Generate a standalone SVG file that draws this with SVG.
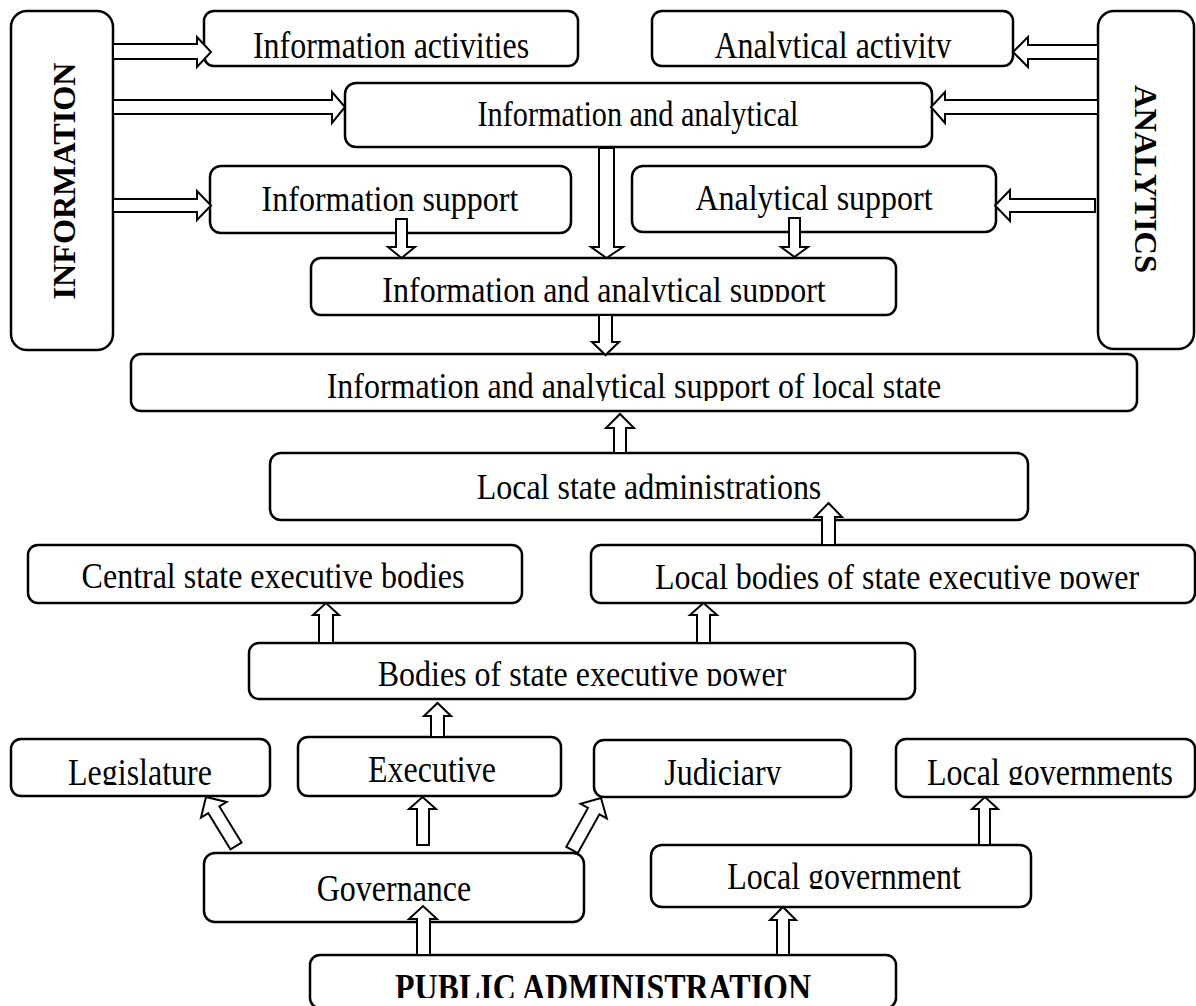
<svg xmlns="http://www.w3.org/2000/svg" width="1196" height="1006" viewBox="0 0 1196 1006">
<style>
.box{fill:#fff;stroke:#000;stroke-width:2.5}
.arr{fill:#fff;stroke:#000;stroke-width:2;stroke-linejoin:miter}
.t{font-family:"Liberation Serif","Times New Roman",serif;font-size:32px;text-anchor:middle;fill:#000}
.b{font-weight:bold}
</style>
<defs>
<clipPath id="c1"><rect x="204" y="11" width="374" height="47"/></clipPath>
<clipPath id="c2"><rect x="652" y="11" width="361" height="47"/></clipPath>
<clipPath id="c3"><rect x="311" y="258" width="585" height="44"/></clipPath>
<clipPath id="c4"><rect x="131" y="354" width="1006" height="47"/></clipPath>
<clipPath id="c5"><rect x="591" y="545" width="604" height="44"/></clipPath>
<clipPath id="c6"><rect x="249" y="643" width="666" height="43"/></clipPath>
<clipPath id="c7"><rect x="11" y="739" width="259" height="46"/></clipPath>
<clipPath id="c8"><rect x="594" y="740" width="257" height="45"/></clipPath>
<clipPath id="c9"><rect x="896" y="739" width="299" height="46"/></clipPath>
<clipPath id="c10"><rect x="651" y="845" width="380" height="44"/></clipPath>
<clipPath id="c11"><rect x="310" y="955" width="586" height="43"/></clipPath>
</defs>
<rect width="1196" height="1006" fill="#fff"/>

<g id="n-information"><rect class="box" x="11" y="11" width="102" height="339" rx="16"/>
<text class="t b" transform="translate(75,181) rotate(-90)" x="0" y="0" font-size="35" textLength="237" lengthAdjust="spacingAndGlyphs">INFORMATION</text></g>
<g id="n-analytics"><rect class="box" x="1098" y="11" width="96" height="338" rx="16"/>
<text class="t b" transform="translate(1135,179) rotate(90)" x="0" y="0" font-size="35" textLength="188" lengthAdjust="spacingAndGlyphs">ANALYTICS</text></g>
<g id="n-info-activities"><rect class="box" x="204" y="11" width="374" height="55" rx="10"/>
<g clip-path="url(#c1)"><text class="t" transform="translate(391,58) scale(1,1.18)">Information activities</text></g></g>
<g id="n-analytical-activity"><rect class="box" x="652" y="11" width="361" height="55" rx="10"/>
<g clip-path="url(#c2)"><text class="t" transform="translate(833,58) scale(1,1.18)">Analytical activity</text></g></g>
<g id="n-info-analytical"><rect class="box" x="345" y="83" width="587" height="64" rx="11"/>
<text class="t" transform="translate(638,126) scale(1,1.12)" font-size="31" textLength="321" lengthAdjust="spacingAndGlyphs">Information and analytical</text></g>
<g id="n-info-support"><rect class="box" x="210" y="166" width="361" height="67" rx="11"/>
<text class="t" transform="translate(390,211) scale(1,1.12)">Information support</text></g>
<g id="n-analytical-support"><rect class="box" x="632" y="166" width="364" height="66" rx="11"/>
<text class="t" transform="translate(814,210) scale(1,1.12)">Analytical support</text></g>
<g id="n-ia-support"><rect class="box" x="311" y="258" width="585" height="57" rx="10"/>
<g clip-path="url(#c3)"><text class="t" transform="translate(604,302) scale(1,1.12)">Information and analytical support</text></g></g>
<g id="n-ia-local-state"><rect class="box" x="131" y="354" width="1006" height="57" rx="10"/>
<g clip-path="url(#c4)"><text class="t" transform="translate(634,398) scale(1,1.15)">Information and analytical support of local state</text></g></g>
<g id="n-local-state-admin"><rect class="box" x="270" y="453" width="758" height="67" rx="11"/>
<text class="t" transform="translate(649,499) scale(1,1.15)">Local state administrations</text></g>
<g id="n-central"><rect class="box" x="28" y="545" width="494" height="58" rx="10"/>
<text class="t" transform="translate(273,588) scale(1,1.15)">Central state executive bodies</text></g>
<g id="n-local-bodies"><rect class="box" x="591" y="545" width="604" height="58" rx="10"/>
<g clip-path="url(#c5)"><text class="t" transform="translate(897,589) scale(1,1.15)">Local bodies of state executive power</text></g></g>
<g id="n-bodies"><rect class="box" x="249" y="643" width="666" height="56" rx="10"/>
<g clip-path="url(#c6)"><text class="t" transform="translate(582,686) scale(1,1.15)">Bodies of state executive power</text></g></g>
<g id="n-legislature"><rect class="box" x="11" y="739" width="259" height="57" rx="10"/>
<g clip-path="url(#c7)"><text class="t" transform="translate(140,785) scale(1,1.18)">Legislature</text></g></g>
<g id="n-executive"><rect class="box" x="298" y="737" width="263" height="59" rx="10"/>
<text class="t" transform="translate(432,782) scale(1,1.18)">Executive</text></g>
<g id="n-judiciary"><rect class="box" x="594" y="740" width="257" height="57" rx="10"/>
<g clip-path="url(#c8)"><text class="t" transform="translate(723,785) scale(1,1.18)">Judiciary</text></g></g>
<g id="n-local-governments"><rect class="box" x="896" y="739" width="299" height="58" rx="10"/>
<g clip-path="url(#c9)"><text class="t" transform="translate(1050,785) scale(1,1.18)">Local governments</text></g></g>
<g id="n-governance"><rect class="box" x="204" y="853" width="380" height="69" rx="11"/>
<text class="t" transform="translate(394,901) scale(1,1.18)">Governance</text></g>
<g id="n-local-government"><rect class="box" x="651" y="845" width="380" height="62" rx="11"/>
<g clip-path="url(#c10)"><text class="t" transform="translate(844,889) scale(1,1.18)">Local government</text></g></g>
<g id="n-public-admin"><rect class="box" x="310" y="955" width="586" height="53" rx="10"/>
<g clip-path="url(#c11)"><text class="t b" transform="translate(603,1000) scale(1,1.18)">PUBLIC ADMINISTRATION</text></g></g>

<g id="connectors">
<polygon class="arr" points="113,44 197,44 197,37 211,52 197,67 197,59 113,59"/>
<polygon class="arr" points="113,100 332,100 332,92 345,107 332,123 332,114 113,114"/>
<polygon class="arr" points="113,199 197,199 197,191 211,205.5 197,220 197,212 113,212"/>
<polygon class="arr" points="1098,45 1028,45 1028,37 1013,52 1028,67 1028,59 1098,59"/>
<polygon class="arr" points="1098,100 945,100 945,92 931,107 945,123 945,114 1098,114"/>
<polygon class="arr" points="1095,199 1010,199 1010,190 995,205.5 1010,221 1010,212 1095,212"/>
<polygon class="arr" points="396,219 407,219 407,247 415,247 401.5,258 388,247 396,247"/>
<polygon class="arr" points="599,148 614,148 614,247 623,247 606.5,258 591,247 599,247"/>
<polygon class="arr" points="789,218 800,218 800,247 808,247 794.5,257 781,247 789,247"/>
<polygon class="arr" points="599,315 612,315 612,342 619,342 605.5,355 592,342 599,342"/>
<polygon class="arr" points="614,453 614,428 606,428 620,414 634,428 626,428 626,453"/>
<polygon class="arr" points="822,545 822,517 815,517 828.5,503 842,517 835,517 835,545"/>
<polygon class="arr" points="319,643 319,615 313,615 326,603 339,615 333,615 333,643"/>
<polygon class="arr" points="697,643 697,615 690,615 703.5,603 717,615 710,615 710,643"/>
<polygon class="arr" points="431,737 431,716 424,716 437.5,703 451,716 444,716 444,737"/>
<polygon class="arr" points="417,845 417,809 409,809 422.5,797 436,809 429,809 429,845"/>
<polygon class="arr" points="417,955 417,919 409,919 423,906 437,919 430,919 430,955"/>
<polygon class="arr" points="777,955 777,920 770,920 783,907 796,920 789,920 789,955"/>
<polygon class="arr" points="979,845 979,809 972,809 985,797 998,809 990,809 990,845"/>
<polygon class="arr" points="241.5,842.6 219.4,806.4 226.6,802 206,797 201,817.6 208.3,813.2 230.5,849.4"/>
<polygon class="arr" points="577.7,853.2 599.4,814.3 606.8,818.4 601,798 580.6,803.8 588,807.9 566.3,846.8"/>
</g>
</svg>
